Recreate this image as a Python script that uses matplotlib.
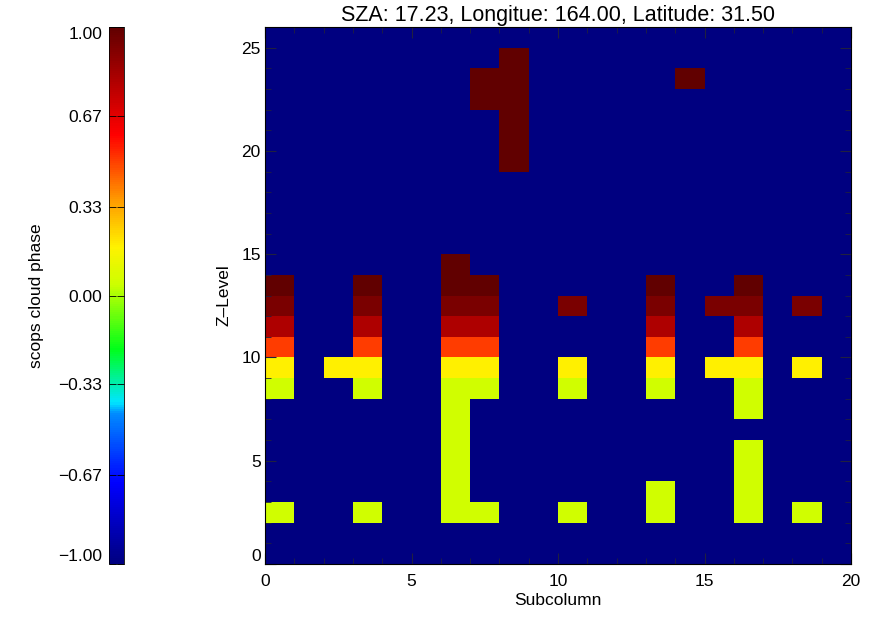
import numpy as np
import matplotlib
matplotlib.use('Agg')
import matplotlib.pyplot as plt
import matplotlib.ticker as ticker
from matplotlib.colors import LinearSegmentedColormap

plt.rcParams['font.family'] = ['Liberation Sans', 'DejaVu Sans']

# cloud phase per level (top row = level 25, bottom row = level 0), one char per subcolumn
# '.' clear, G/Y/O/R/M/D phase classes
phase_rows = [
    "....................",  # 25
    "........D...........",  # 24
    ".......DD.....D.....",  # 23
    ".......DD...........",  # 22
    "........D...........",  # 21
    "........D...........",  # 20
    "........D...........",  # 19
    "....................",  # 18
    "....................",  # 17
    "....................",  # 16
    "....................",  # 15
    "......D.............",  # 14
    "D..D..DD.....D..D...",  # 13
    "M..M..MM..M..M.MM.M.",  # 12
    "R..R..RR.....R..R...",  # 11
    "O..O..OO.....O..O...",  # 10
    "Y.YY..YY..Y..Y.YY.Y.",  # 9
    "G..G..GG..G..G..G...",  # 8
    "......G.........G...",  # 7
    "......G.............",  # 6
    "......G.........G...",  # 5
    "......G.........G...",  # 4
    "......G......G..G...",  # 3
    "G..G..GG..G..G..G.G.",  # 2
    "....................",  # 1
    "....................",  # 0
]
phase_values = {'.': -1.0, 'G': 0.05, 'Y': 0.18, 'O': 0.5, 'R': 0.8, 'M': 0.93, 'D': 1.0}

cbar_ticks = [-1.0, -0.67, -0.33, 0.0, 0.33, 0.67, 1.0]
title = 'SZA: 17.23, Longitue: 164.00, Latitude: 31.50'

grid = np.array([[phase_values[c] for c in row] for row in phase_rows[::-1]])
n_lev, n_col = grid.shape

# colour table
cmap = LinearSegmentedColormap.from_list('scops', [
    (0.00, (0.0, 0.0, 0.5)),
    (0.15, (0.0, 0.0, 1.0)),
    (0.28, (0.0, 0.55, 1.0)),
    (0.30, (0.0, 0.9, 1.0)),
    (0.40, (0.0, 1.0, 0.1)),
    (0.52, (0.8, 1.0, 0.0)),
    (0.59, (1.0, 0.95, 0.0)),
    (0.68, (1.0, 0.6, 0.0)),
    (0.80, (1.0, 0.0, 0.0)),
    (1.00, (0.38, 0.0, 0.0)),
])

fig = plt.figure(figsize=(8.76, 6.2), dpi=100)
ax = fig.add_axes([265/876, 1-564/620, 586/876, 537/620])
cax = fig.add_axes([109/876, 1-564/620, 15/876, 537/620])

mesh = ax.pcolormesh(np.arange(n_col+1), np.arange(n_lev+1), grid, cmap=cmap, vmin=-1, vmax=1)
ax.set_xlim(0, 20)
ax.set_ylim(0, 26)
ax.xaxis.set_major_locator(ticker.MultipleLocator(5))
ax.xaxis.set_minor_locator(ticker.MultipleLocator(1))
ax.yaxis.set_major_locator(ticker.FixedLocator([0, 5, 10, 15, 20, 25]))
ax.yaxis.set_minor_locator(ticker.MultipleLocator(1))
ax.tick_params(which='both', direction='in', top=True, right=True, labelsize=12.5, color='#202040')
ax.tick_params(which='major', length=8, width=0.8)
ax.tick_params(which='minor', length=4, width=0.6)
ax.tick_params(axis='x', pad=7)
ax.tick_params(axis='y', pad=3)
ax.set_xlabel('Subcolumn', fontsize=12.5, labelpad=3)
ax.set_ylabel('Z\u2013Level', fontsize=12.5, labelpad=7)
ax.set_title(title, fontsize=15.5, pad=4)
for s in ax.spines.values():
    s.set_linewidth(0.8)
# end label nudged inside like the original
ax.yaxis.get_major_ticks()[0].label1.set_va('bottom')

cb = fig.colorbar(mesh, cax=cax, ticks=cbar_ticks)
cb.outline.set_linewidth(0.6)
cax.yaxis.set_ticks_position('both')
cax.yaxis.set_label_position('left')
cax.yaxis.set_major_formatter(ticker.FuncFormatter(lambda v, p: f'{v:.2f}'.replace('-', '\u2212')))
cax.tick_params(direction='in', length=5, width=0.6, labelsize=12.5, labelleft=True, labelright=False, pad=5)
cax.set_ylabel('scops cloud phase', fontsize=12.5, labelpad=10)
cbt = cax.yaxis.get_major_ticks()
cbt[0].label1.set_va('bottom')
cbt[-1].label1.set_va('top')

fig.savefig('out.png', dpi=100)
